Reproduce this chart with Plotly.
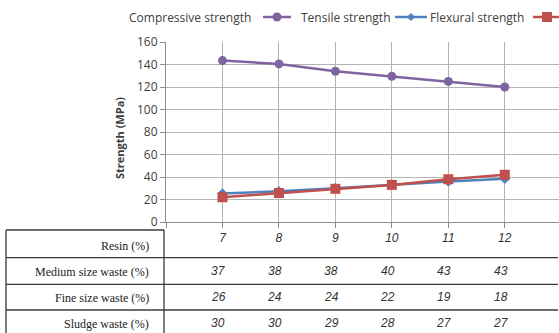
import plotly.graph_objects as go

# ---- data ----
resin = [7, 8, 9, 10, 11, 12]
compressive = [143.5, 140.5, 134, 129.5, 125, 120]
tensile = [25.3, 27.3, 30, 33.3, 36, 38.5]
flexural = [22, 25.8, 29.5, 33, 38, 42]
medium_waste = [37, 38, 38, 40, 43, 43]
fine_waste = [26, 24, 24, 22, 19, 18]
sludge_waste = [30, 30, 29, 28, 27, 27]
row_labels = ["Resin (%)", "Medium size waste (%)", "Fine size waste (%)", "Sludge waste (%)"]
series_names = ["Compressive strength", "Tensile strength", "Flexural strength"]
colors = ["#8064A2", "#4F81BD", "#C0504D"]

W, H = 559, 333
L, R, T, B = 166, 559, 42, 222


def px(x):
    return (x - L) / (R - L)


def py(y):
    return (B - y) / (B - T)


fig = go.Figure()
fig.add_trace(go.Scatter(x=resin, y=compressive, mode="lines+markers", name=series_names[0],
                         line=dict(color=colors[0], width=2.5),
                         marker=dict(symbol="circle", size=9, color=colors[0])))
fig.add_trace(go.Scatter(x=resin, y=tensile, mode="lines+markers", name=series_names[1],
                         line=dict(color=colors[1], width=2.5),
                         marker=dict(symbol="diamond", size=8, color=colors[1])))
fig.add_trace(go.Scatter(x=resin, y=flexural, mode="lines+markers", name=series_names[2],
                         line=dict(color=colors[2], width=2.5),
                         marker=dict(symbol="square", size=10, color=colors[2])))

grid = "#b4b4b4"
axis_col = "#8c8c8c"
txt = "#404040"

fig.update_layout(
    width=W, height=H,
    margin=dict(l=L, r=W - R, t=T, b=H - B, pad=0),
    paper_bgcolor="white", plot_bgcolor="white",
    showlegend=False,
    xaxis=dict(range=[6, 12.96], tickvals=[6] + resin,
               ticktext=[""] + ["<i>%d</i>" % v for v in resin],
               showgrid=True, gridcolor=grid, gridwidth=1,
               showline=True, linecolor=axis_col, linewidth=1,
               ticks="outside", ticklen=5, tickcolor=axis_col,
               tickfont=dict(family="Liberation Sans", size=12, color="#333333"),
               zeroline=False, fixedrange=True),
    yaxis=dict(range=[0, 160], tick0=0, dtick=20,
               showgrid=True, gridcolor=grid, gridwidth=1,
               showline=True, linecolor=axis_col, linewidth=1,
               ticks="outside", ticklen=5, tickcolor=axis_col,
               tickfont=dict(family="Open Sans", size=12, color=txt),
               zeroline=False, fixedrange=True),
)

ann = []
shapes = []

# y-axis title
ann.append(dict(x=px(119), y=py(138), xref="paper", yref="paper", text="<b>Strength (MPa)</b>",
                textangle=-90, showarrow=False, xanchor="center", yanchor="middle",
                font=dict(family="Open Sans", size=11, color=txt)))

# custom legend: text followed by symbol
leg_y = 17
leg_items = [
    (127, 263, 291, 277, "circle"),
    (299, 395, 427, 411, "diamond"),
    (428, 533, 562, 547, "square"),
]
for name, col, (tx, l0, l1, mx, sym) in zip(series_names, colors, leg_items):
    ann.append(dict(x=px(tx), y=py(leg_y), xref="paper", yref="paper", text=name,
                    showarrow=False, xanchor="left", yanchor="middle",
                    font=dict(family="Open Sans", size=12, color=txt)))
    shapes.append(dict(type="line", xref="paper", yref="paper", x0=px(l0), x1=px(l1),
                       y0=py(leg_y), y1=py(leg_y), line=dict(color=col, width=2.5)))
    if sym == "circle":
        shapes.append(dict(type="circle", xref="paper", yref="paper", x0=px(mx - 4.5), x1=px(mx + 4.5),
                           y0=py(leg_y + 4.5), y1=py(leg_y - 4.5), fillcolor=col, line=dict(width=0)))
    elif sym == "diamond":
        d = 4
        path = "M %f %f L %f %f L %f %f L %f %f Z" % (
            px(mx - d), py(leg_y), px(mx), py(leg_y - d), px(mx + d), py(leg_y), px(mx), py(leg_y + d))
        shapes.append(dict(type="path", xref="paper", yref="paper", path=path,
                           fillcolor=col, line=dict(width=0)))
    else:
        shapes.append(dict(type="rect", xref="paper", yref="paper", x0=px(mx - 5), x1=px(mx + 5),
                           y0=py(leg_y + 5), y1=py(leg_y - 5), fillcolor=col, line=dict(width=0)))

# table lines
tcol = "#3a3a3a"
tw = 1.3
shapes.append(dict(type="line", xref="paper", yref="paper", x0=px(6), x1=px(6), y0=py(230), y1=py(340),
                   line=dict(color=tcol, width=tw)))
shapes.append(dict(type="line", xref="paper", yref="paper", x0=px(6), x1=px(164), y0=py(230), y1=py(230),
                   line=dict(color=tcol, width=tw)))
shapes.append(dict(type="line", xref="paper", yref="paper", x0=px(164), x1=px(164), y0=py(230), y1=py(340),
                   line=dict(color=tcol, width=tw)))
for yy in [257.7, 284.3, 310]:
    shapes.append(dict(type="line", xref="paper", yref="paper", x0=px(6), x1=px(558), y0=py(yy), y1=py(yy),
                       line=dict(color=tcol, width=tw)))

# row labels
row_y = [245.7, 271.5, 297.5, 323.5]
for lab, yy in zip(row_labels, row_y):
    ann.append(dict(x=px(151), y=py(yy), xref="paper", yref="paper", text=lab, showarrow=False,
                    xanchor="right", yanchor="middle",
                    font=dict(family="Liberation Serif", size=12, color="#222222")))

# table values
for vals, yy in zip([medium_waste, fine_waste, sludge_waste], row_y[1:]):
    for xv, v in zip(resin, vals):
        ann.append(dict(x=xv, y=py(yy - 1), xref="x", yref="paper", text="<i>%d</i>" % v,
                        showarrow=False, xanchor="center", yanchor="middle", xshift=-4,
                        font=dict(family="Liberation Sans", size=12, color="#333333")))

fig.update_layout(annotations=ann, shapes=shapes)
fig.write_html("out.html",
               config={"displayModeBar": False, "staticPlot": True},
               post_script="document.body.style.margin='0';document.body.style.overflow='hidden';")
